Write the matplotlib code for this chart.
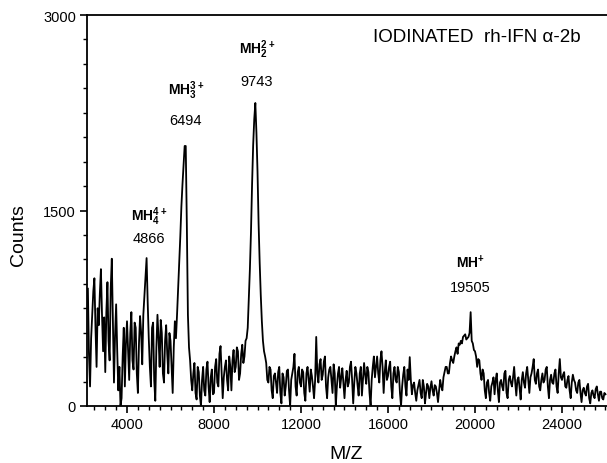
import numpy as np
import matplotlib
matplotlib.use("Agg")
import matplotlib.pyplot as plt
from matplotlib.ticker import MultipleLocator

plt.rcParams["font.family"] = ["Liberation Sans", "DejaVu Sans"]
plt.rcParams["mathtext.fontset"] = "custom"
plt.rcParams["mathtext.rm"] = "Liberation Sans"
plt.rcParams["mathtext.bf"] = "Liberation Sans:bold"

# m/z grid, one reading every 50 Da from 2200 to 26000
mz = np.arange(2200, 26001, 50)

# counts, 1000 Da per row
counts = [
    900, 400, 150, 520, 700, 880, 980, 600, 300, 750, 620, 860, 1050, 700, 420, 680,            # 2200-2950
    260, 720, 950, 500, 350, 900, 1130, 650, 180, 540, 780, 420, 120, 300, 0, 60, 380, 600, 150, 480,       # 3000
    650, 420, 200, 560, 720, 350, 280, 640, 600, 250, 100, 480, 690, 560, 320, 700, 850, 1000, 1135, 800,   # 4000
    520, 300, 150, 600, 640, 200, 40, 450, 700, 520, 300, 660, 560, 250, 180, 500, 620, 400, 250, 560,      # 5000
    500, 300, 100, 450, 650, 520, 700, 900, 1100, 1300, 1530, 1700, 1850, 1995, 1995, 1400, 700, 450, 350, 200,  # 6000
    120, 250, 330, 100, 50, 300, 260, 80, 0, 200, 300, 120, 80, 280, 340, 150, 30, 220, 280, 90,            # 7000
    100, 300, 360, 180, 150, 400, 460, 250, 60, 220, 300, 350, 200, 120, 380, 300, 120, 350, 430, 260,      # 8000
    300, 450, 420, 200, 250, 400, 470, 330, 380, 500, 520, 600, 820, 1050, 1335, 1700, 2000, 2200, 2325, 2100,  # 9000
    1800, 1400, 1100, 850, 650, 500, 420, 380, 330, 200, 180, 300, 280, 120, 60, 230, 250, 180, 100, 260,   # 10000
    300, 100, 20, 250, 220, 80, 150, 270, 280, 120, 0, 200, 250, 300, 400, 150, 80, 260, 300, 180,          # 11000
    150, 280, 260, 100, 40, 250, 300, 200, 110, 280, 230, 150, 60, 200, 530, 250, 180, 320, 360, 200,       # 12000
    240, 340, 380, 150, 60, 220, 280, 300, 200, 100, 320, 250, 0, 150, 250, 300, 140, 220, 290, 180,        # 13000
    60, 200, 270, 150, 180, 300, 340, 200, 20, 180, 300, 250, 160, 80, 250, 300, 80, 200, 330, 240,         # 14000
    170, 300, 260, 100, 0, 200, 300, 380, 220, 300, 380, 250, 180, 350, 420, 300, 100, 260, 350, 200,       # 15000
    230, 300, 340, 150, 60, 250, 300, 200, 180, 300, 260, 100, 0, 150, 240, 300, 150, 80, 280, 200,         # 16000
    375, 200, 90, 160, 180, 100, 40, 120, 160, 200, 100, 60, 200, 150, 20, 100, 170, 150, 60, 140,          # 17000
    190, 120, 80, 160, 150, 100, 30, 120, 200, 150, 120, 220, 260, 300, 300, 250, 250, 330, 380, 350,       # 18000
    330, 380, 420, 450, 400, 480, 470, 500, 480, 530, 540, 550, 510, 520, 530, 560, 720, 500, 480, 430,     # 19000
    420, 380, 300, 360, 350, 250, 200, 280, 250, 120, 60, 180, 200, 100, 40, 150, 180, 220, 90, 200,        # 20000
    250, 120, 30, 180, 200, 150, 120, 250, 270, 100, 60, 200, 230, 180, 150, 220, 300, 180, 80, 200,        # 21000
    220, 140, 50, 200, 260, 180, 140, 250, 300, 200, 100, 220, 250, 300, 360, 200, 170, 250, 280, 150,      # 22000
    120, 200, 250, 180, 200, 280, 300, 150, 60, 200, 240, 180, 170, 250, 280, 150, 100, 250, 360, 220,      # 23000
    200, 240, 260, 150, 140, 200, 230, 120, 60, 180, 240, 200, 180, 120, 100, 180, 200, 100, 30, 120,       # 24000
    140, 100, 80, 150, 170, 60, 20, 100, 120, 80, 60, 130, 150, 90, 40, 110, 110, 60, 50, 100,              # 25000
    90,                                                                                                     # 26000
]

# peak labels: ion, m/z value, x, y of ion label, y of number
peak_ions = [r"$\mathbf{MH_4^{4+}}$", r"$\mathbf{MH_3^{3+}}$",
             r"$\mathbf{MH_2^{2+}}$", r"$\mathbf{MH^{+}}$"]
peak_mz = ["4866", "6494", "9743", "19505"]
label_x = [5010, 6710, 9980, 19770]
ion_y = [1460, 2430, 2740, 1105]
num_y = [1290, 2195, 2495, 915]

fig = plt.figure(figsize=(6.07, 4.64), dpi=100)
ax = fig.add_axes([87 / 607, 1 - 407 / 464, 1 - 87 / 607, (407 - 16) / 464])

ax.plot(mz, counts, color="black", lw=1.3)

ax.set_xlim(2160, 26070)
ax.set_ylim(0, 3000)
ax.set_xticks([4000, 8000, 12000, 16000, 20000, 24000])
ax.xaxis.set_minor_locator(MultipleLocator(500))
ax.set_yticks([0, 1500, 3000])
ax.yaxis.set_minor_locator(MultipleLocator(187.5))
ax.tick_params(which="major", length=5, width=1.2, labelsize=10.5, pad=3)
ax.tick_params(which="minor", length=3, width=1)
ax.spines["right"].set_visible(False)
for s in ["left", "bottom", "top"]:
    ax.spines[s].set_linewidth(1.3)

for ion, num, x, yi, yn in zip(peak_ions, peak_mz, label_x, ion_y, num_y):
    ax.text(x, yi, ion, ha="center", va="center", fontsize=10)
    ax.text(x, yn, num, ha="center", va="center", fontsize=10.5)

fig.text(373 / 607, 1 - 37 / 464, "IODINATED  rh-IFN α-2b",
         ha="left", va="center", fontsize=13.5)
fig.text(18 / 607, 1 - 235 / 464, "Counts", rotation=90,
         ha="center", va="center", fontsize=14)
fig.text(346 / 607, 1 - 455 / 464, "M/Z", ha="center", va="center",
         fontsize=14)

fig.savefig("out.png", dpi=100)
